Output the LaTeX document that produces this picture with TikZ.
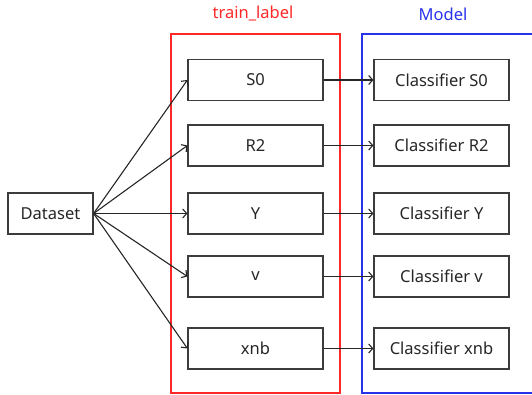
\documentclass[tikz,border=0pt]{standalone}
\usepackage{fontspec}
\setmainfont{Noto Sans}
\usetikzlibrary{arrows.meta}
\definecolor{myred}{RGB}{255,40,40}
\definecolor{myblue}{RGB}{40,50,235}
\definecolor{edge}{RGB}{60,60,60}
\begin{document}
\begin{tikzpicture}[x=1pt,y=-1pt,
  box/.style={draw=edge,line width=1.2pt,minimum width=135pt,minimum height=41pt,inner sep=0pt,font=\fontsize{16.5}{19}\selectfont,text=black!85},
  dbox/.style={box,minimum width=85pt},
  conn/.style={draw=black!85,line width=1.1pt,-{Straight Barb[length=4pt,width=9pt]}},
  title/.style={font=\fontsize{16.5}{19}\selectfont}
]
\useasboundingbox (0,0) rectangle (532,395);
\begin{scope}
\clip (0,0) rectangle (532,395);
\draw[myred,line width=1.4pt] (171,34) rectangle (340,393);
\draw[myblue,line width=1.4pt] (362,34) rectangle (545,393);
\end{scope}
\node[title,text=myred] (tl) at (253,14) {train\_label};
\node[title,text=myblue] (ml) at (443,14) {Model};
\node[dbox] (ds) at (50.5,213.5) {Dataset};
\foreach \n/\t/\y in {s0/S0/80, r2/R2/145.5, y/Y/213.5, v/v/276.5, xnb/xnb/348.5}{
  \node[box] (\n) at (255.5,\y) {\t};
  \node[box] (c\n) at (441.5,\y) {Classifier \t};
  \draw[conn] (ds.east) -- (\n.west);
  \draw[conn] (\n.east) -- (c\n.west);
}
\end{tikzpicture}
\end{document}
